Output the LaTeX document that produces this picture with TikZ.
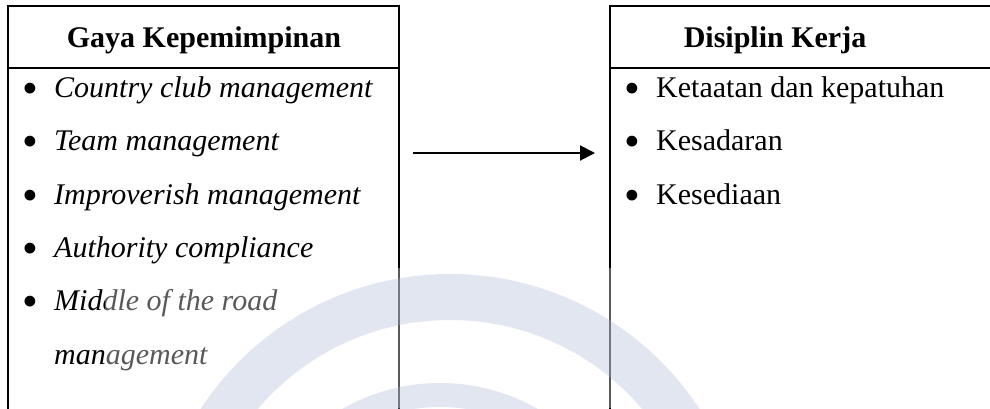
\documentclass[tikz,border=0pt]{standalone}
\usepackage{fontspec}
\setmainfont{Liberation Serif}
\usetikzlibrary{arrows.meta}
\definecolor{wmblue}{RGB}{168,182,214}
\begin{document}
\begin{tikzpicture}[x=1pt,y=-1pt,
  boxline/.style={line width=2pt, line cap=rect},
  head/.style={font=\fontsize{30}{36}\selectfont\bfseries, inner sep=0pt, anchor=base},
  item/.style={font=\fontsize{30}{36}\selectfont, inner sep=0pt, anchor=base west},
  itemi/.style={font=\fontsize{30}{36}\selectfont\itshape, inner sep=0pt, anchor=base west},
  dotmark/.style={font=\fontsize{45}{50}\selectfont, inner sep=0pt, anchor=base},
  link/.style={line width=2pt, -{Triangle[length=15pt,width=15pt]}},
  wmring/.style={draw=wmblue, opacity=0.33}
]
\useasboundingbox (0,0) rectangle (990,408);
\fill[white] (0,0) rectangle (990,408);
% boxes
\draw[boxline] (8,410) -- (8,6) -- (399,6) -- (399,410);
\draw[boxline] (8,68) -- (399,68);
\draw[boxline] (610,410) -- (610,6) -- (992,6);
\draw[boxline] (610,68) -- (992,68);
% headers
\node[head] (h1) at (204,47) {Gaya Kepemimpinan};
\node[head] (h2) at (775,47) {Disiplin Kerja};
% left items
\node[dotmark] (lb1) at (30,103) {\textbullet};
\node[itemi] (l1) at (54,97) {Country club management};
\node[dotmark] (lb2) at (30,156.5) {\textbullet};
\node[itemi] (l2) at (54,150.5) {Team management};
\node[dotmark] (lb3) at (30,210) {\textbullet};
\node[itemi] (l3) at (54,204) {Improverish management};
\node[dotmark] (lb4) at (30,263) {\textbullet};
\node[itemi] (l4) at (54,257) {Authority compliance};
\node[dotmark] (lb5) at (30,316.5) {\textbullet};
\node[itemi] (l5) at (54,310.5) {Middle of the road};
\node[itemi] (l6) at (54,364) {management};
% right items
\node[dotmark] (rb1) at (632,103) {\textbullet};
\node[item] (r1) at (656,97) {Ketaatan dan kepatuhan};
\node[dotmark] (rb2) at (632,156.5) {\textbullet};
\node[item] (r2) at (656,150.5) {Kesadaran};
\node[dotmark] (rb3) at (632,210) {\textbullet};
\node[item] (r3) at (656,204) {Kesediaan};
% arrow
\coordinate (a1) at (413,153);
\coordinate (a2) at (595,153);
\draw[link] (a1) -- (a2);
% watermark
\fill[white, opacity=0.35] (105,268) rectangle (838,408);
\begin{scope}
  \clip (0,0) rectangle (990,408);
  \draw[wmring, line width=46pt] (450,572) circle[radius=275];
  \draw[wmring, line width=24pt] (440,580) circle[radius=185];
\end{scope}
\end{tikzpicture}
\end{document}
